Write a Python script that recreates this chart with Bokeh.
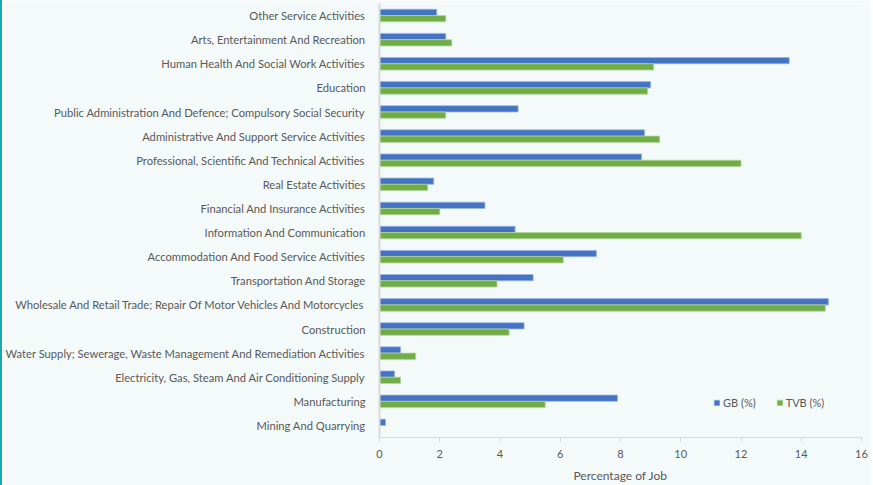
from bokeh.plotting import figure
from bokeh.models import FactorRange, Range1d, ColumnDataSource, Legend, LegendItem
from bokeh.transform import dodge
from bokeh.embed import file_html
from bokeh.resources import INLINE

categories = [
    "Mining And Quarrying",
    "Manufacturing",
    "Electricity, Gas, Steam And Air Conditioning Supply",
    "Water Supply; Sewerage, Waste Management And Remediation Activities",
    "Construction",
    "Wholesale And Retail Trade; Repair Of Motor Vehicles And Motorcycles",
    "Transportation And Storage",
    "Accommodation And Food Service Activities",
    "Information And Communication",
    "Financial And Insurance Activities",
    "Real Estate Activities",
    "Professional, Scientific And Technical Activities",
    "Administrative And Support Service Activities",
    "Public Administration And Defence; Compulsory Social Security",
    "Education",
    "Human Health And Social Work Activities",
    "Arts, Entertainment And Recreation",
    "Other Service Activities",
]
gb = [0.2, 7.9, 0.5, 0.7, 4.8, 14.9, 5.1, 7.2, 4.5, 3.5, 1.8, 8.7, 8.8, 4.6, 9.0, 13.6, 2.2, 1.9]
tvb = [0.0, 5.5, 0.7, 1.2, 4.3, 14.8, 3.9, 6.1, 14.0, 2.0, 1.6, 12.0, 9.3, 2.2, 8.9, 9.1, 2.4, 2.2]
x_ticks = [0, 2, 4, 6, 8, 10, 12, 14, 16]
series_names = ["GB (%)", "TVB (%)"]

BG = "#F3FAF9"
TXT = "#595959"
AX = "#D9D9D9"
FONT = "Lato"

src = ColumnDataSource(dict(cat=categories, gb=gb, tvb=tvb))

p = figure(width=871, height=485, y_range=FactorRange(*categories), x_range=Range1d(0, 16),
           output_backend="svg", toolbar_location=None,
           min_border_left=376, min_border_right=12, min_border_top=3, min_border_bottom=44)
p.styles = {"border-left": "2px solid #19AAB0"}
p.background_fill_color = BG
p.border_fill_color = BG
p.outline_line_color = None
p.xgrid.grid_line_color = None
p.ygrid.grid_line_color = None

r1 = p.hbar(y=dodge("cat", 0.13, range=p.y_range), right="gb", left=0, height=0.26, source=src,
            fill_color="#4472C4", line_color="#9DB5E0", line_width=0.8)
r2 = p.hbar(y=dodge("cat", -0.13, range=p.y_range), right="tvb", left=0, height=0.26, source=src,
            fill_color="#70AD47", line_color="#B3D69B", line_width=0.8)

p.xaxis.ticker = x_ticks
p.xaxis.axis_line_color = AX
p.xaxis.major_tick_line_color = AX
p.xaxis.major_tick_out = 4
p.xaxis.major_tick_in = 0
p.xaxis.minor_tick_line_color = None
p.xaxis.major_label_text_font = FONT
p.xaxis.major_label_text_font_size = "11px"
p.xaxis.major_label_text_color = TXT
p.xaxis.major_label_standoff = 8
p.xaxis.axis_label = "Percentage of Job"
p.xaxis.axis_label_text_font = FONT
p.xaxis.axis_label_text_font_size = "12px"
p.xaxis.axis_label_text_font_style = "normal"
p.xaxis.axis_label_text_color = TXT
p.xaxis.axis_label_standoff = 7

p.yaxis.axis_line_color = AX
p.yaxis.axis_line_width = 2
p.yaxis.major_tick_line_color = None
p.yaxis.minor_tick_line_color = None
p.yaxis.major_label_text_font = FONT
p.yaxis.major_label_text_font_size = "11.2px"
p.yaxis.major_label_text_color = TXT
p.yaxis.major_label_standoff = 8

legend = Legend(items=[LegendItem(label=series_names[0], renderers=[r1]),
                       LegendItem(label=series_names[1], renderers=[r2])],
                orientation="horizontal", location=(334, 28),
                background_fill_alpha=0, border_line_color=None,
                glyph_width=7, glyph_height=7, spacing=20, padding=2,
                label_text_font=FONT, label_text_font_size="11px", label_text_color=TXT,
                label_standoff=3)
p.add_layout(legend)

open("out.html", "w").write(file_html(p, INLINE))
